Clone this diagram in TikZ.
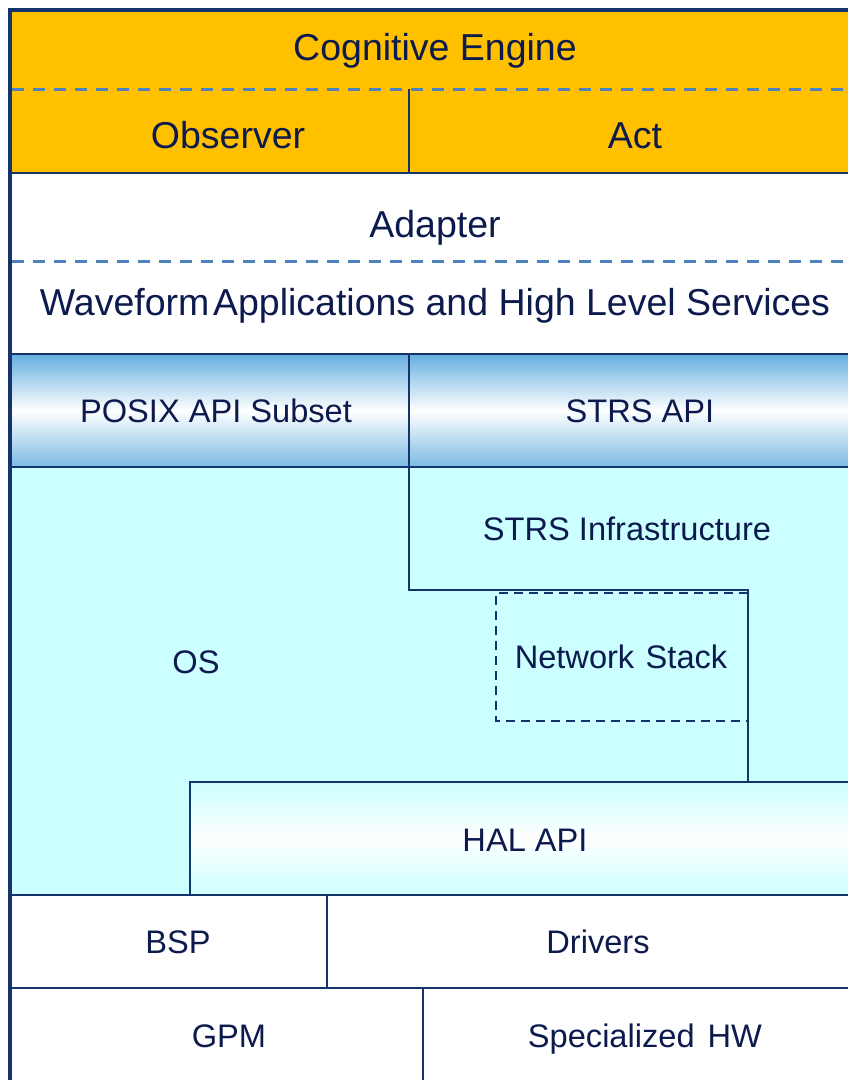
\documentclass[tikz,border=0pt]{standalone}
\usepackage{fontspec}
\setmainfont{Liberation Sans}
\definecolor{navy}{HTML}{14346B}
\definecolor{dashblue}{HTML}{4F81BD}
\definecolor{orangeF}{HTML}{FFC000}
\definecolor{cyanF}{HTML}{CCFFFF}
\definecolor{apiblue}{HTML}{64AEDF}
\definecolor{txt}{HTML}{0D1A4E}
\begin{document}
\begin{tikzpicture}[x=1pt,y=-1pt,
  big/.style={font=\fontsize{37.5}{42}\selectfont, text=txt, inner sep=0pt, anchor=base},
  mid/.style={font=\fontsize{32.6}{36}\selectfont, text=txt, inner sep=0pt, anchor=base},
  outer/.style={draw=navy, line width=3.2pt},
  frame/.style={draw=navy, line width=2.8pt},
  dashsep/.style={draw=dashblue, line width=3pt, dash pattern=on 12pt off 9pt},
  netdash/.style={draw=navy, line width=2.8pt, dash pattern=on 9pt off 6pt}]
\useasboundingbox (0,0) rectangle (848,1080);
% fills
\fill[orangeF] (10,10) rectangle (848,173);
\fill[white] (10,173) rectangle (848,354);
\shade[top color=apiblue, bottom color=apiblue!85, middle color=white] (10,354) rectangle (848,467);
\fill[cyanF] (10,467) rectangle (848,895);
\shade[top color=cyanF, bottom color=cyanF, middle color=white] (190,782) rectangle (848,895);
\fill[white] (10,895) rectangle (848,1080);
% separators
\draw[dashsep] (12,89) -- (848,89);
\draw[dashsep] (12,261) -- (848,261);
\draw[frame] (409,89) -- (409,173);
\draw[frame] (10,173) -- (848,173);
\draw[frame] (10,354) -- (848,354);
\draw[frame] (409,354) -- (409,467);
\draw[frame] (10,467) -- (848,467);
\draw[frame] (409,467) -- (409,590) -- (748,590) -- (748,782);
\draw[netdash] (748,593) -- (496,593) -- (496,721) -- (748,721);
\draw[frame] (848,782) -- (190,782) -- (190,895);
\draw[frame] (10,895) -- (848,895);
\draw[frame] (327,895) -- (327,988);
\draw[frame] (10,988) -- (848,988);
\draw[frame] (423,988) -- (423,1080);
\draw[outer] (10,1080) -- (10,10) -- (848,10);
% labels
\node[big] (cog) at (435,60) {Cognitive Engine};
\node[big] (obs) at (228,148) {Observer};
\node[big] (act) at (635,148) {Act};
\node[big] (adp) at (435,237) {Adapter};
\node[big] (wav) at (435,315) {Waveform\hspace{0.1em}Applications and High Level Services};
\node[mid] (posix) at (216,422) {POSIX API Subset};
\node[mid] (strsapi) at (640,422) {STRS API};
\node[mid] (infra) at (627,540) {STRS Infrastructure};
\node[mid] (os) at (196,673) {OS};
\node[mid] (net) at (621,668) {Network\hspace{0.35em}Stack};
\node[mid] (hal) at (525,851) {HAL API};
\node[mid] (bsp) at (178,953) {BSP};
\node[mid] (drv) at (598,953) {Drivers};
\node[mid] (gpm) at (229,1047) {GPM};
\node[mid] (shw) at (645,1047) {Specialized\hspace{0.4em}HW};
\end{tikzpicture}
\end{document}
